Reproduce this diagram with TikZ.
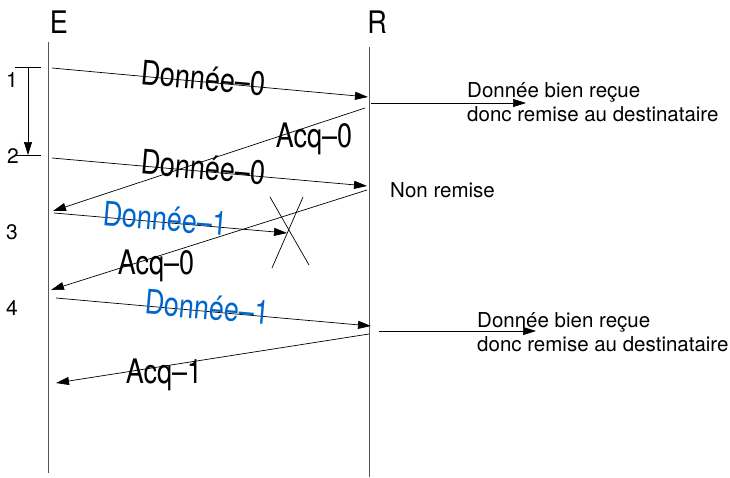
\documentclass[tikz,border=0pt]{standalone}
\usepackage{fontspec}
\usepackage{graphicx}
\setmainfont{TeX Gyre Heros}
\usetikzlibrary{arrows.meta}
\definecolor{lblue}{RGB}{0,102,204}
\definecolor{lifegray}{RGB}{85,85,85}
\newcommand\tallt[1]{\scalebox{1}[1.25]{#1}}
\tikzset{
  life/.style={draw=lifegray, line width=0.9pt},
  msg/.style={draw=black, line width=0.7pt, -{Triangle[length=13pt,width=8pt]}},
  plain/.style={draw=black, line width=0.7pt},
  big/.style={font=\fontsize{27}{30}\selectfont, inner sep=0pt},
  mid/.style={font=\fontsize{21}{24}\selectfont, inner sep=0pt},
  note/.style={font=\fontsize{20.5}{24.5}\selectfont, inner sep=0pt, align=left, anchor=north west},
  lab/.style={big, sloped, yshift=4pt},
}
\begin{document}
\begin{tikzpicture}[x=1pt,y=-1pt]
\useasboundingbox (0,0) rectangle (730,477);
% lifelines
\coordinate (Etop) at (48,42);
\coordinate (Ebot) at (48,473);
\coordinate (Rtop) at (369,47);
\coordinate (Rbot) at (369,477);
\draw[life] (Etop) -- (Ebot);
\draw[life] (Rtop) -- (Rbot);
\node[font=\fontsize{27}{30}\selectfont, inner sep=0pt, anchor=base] (E) at (59,33) {\scalebox{1}[1.15]{E}};
\node[font=\fontsize{27}{30}\selectfont, inner sep=0pt, anchor=base] (R) at (377,33) {\scalebox{1}[1.15]{R}};
% time marks
\coordinate (t1a) at (15,67); \coordinate (t1b) at (41,67);
\coordinate (t2a) at (15,155); \coordinate (t2b) at (41,155);
\coordinate (v1) at (28,67); \coordinate (v2) at (28,155);
\draw[plain] (t1a) -- (t1b);
\draw[plain] (t2a) -- (t2b);
\draw[msg] (v1) -- (v2);
\node[mid] (n1) at (12,80) {1};
\node[mid] (n2) at (13,156) {2};
\node[mid] (n3) at (12,232) {3};
\node[mid] (n4) at (12,308) {4};
% message end points
\coordinate (d1s) at (52,68);   \coordinate (d1e) at (368,97);
\coordinate (a1s) at (365,108); \coordinate (a1e) at (53,211);
\coordinate (d2s) at (52,158);  \coordinate (d2e) at (367,186);
\coordinate (b1s) at (54,213);  \coordinate (b1e) at (287,233);
\coordinate (a2s) at (367,190); \coordinate (a2e) at (51,290);
\coordinate (b2s) at (56,298);  \coordinate (b2e) at (371,326);
\coordinate (a3s) at (369,334); \coordinate (a3e) at (56,383);
% messages
\draw[msg] (d1s) -- node[lab, pos=0.478] (L1) {\tallt{Donnée–0}} (d1e);
\draw[msg] (a1s) -- (a1e);
\node[big, anchor=base] (L2) at (314,147) {\tallt{Acq–0}};
\draw[msg] (d2s) -- node[lab, pos=0.48] (L3) {\tallt{Donnée–0}} (d2e);
\draw[msg] (b1s) -- node[lab, pos=0.476, text=lblue] (L4) {\tallt{Donnée–1}} (b1e);
\draw[msg] (a2s) -- (a2e);
\node[big, anchor=base] (L5) at (156,274) {\tallt{Acq–0}};
\draw[msg] (b2s) -- node[lab, pos=0.48, text=lblue] (L6) {\tallt{Donnée–1}} (b2e);
\draw[msg] (a3s) -- (a3e);
\node[big, anchor=base] (L7) at (164,383) {\tallt{Acq–1}};
% loss cross
\coordinate (x1a) at (270,197); \coordinate (x1b) at (309,265);
\coordinate (x2a) at (303,197); \coordinate (x2b) at (272,268);
\draw[plain] (x1a) -- (x1b);
\draw[plain] (x2a) -- (x2b);
% side notes
\coordinate (s1s) at (371,103); \coordinate (s1e) at (526,103);
\coordinate (s2s) at (379,331); \coordinate (s2e) at (536,331);
\draw[msg] (s1s) -- (s1e);
\draw[msg] (s2s) -- (s2e);
\node[note] (N1) at (467,82) {Donnée bien reçue\\donc remise au destinataire};
\node[note] (N2) at (477,312) {Donnée bien reçue\\donc remise au destinataire};
\node[note] (N3) at (390,182) {Non remise};
\end{tikzpicture}
\end{document}
